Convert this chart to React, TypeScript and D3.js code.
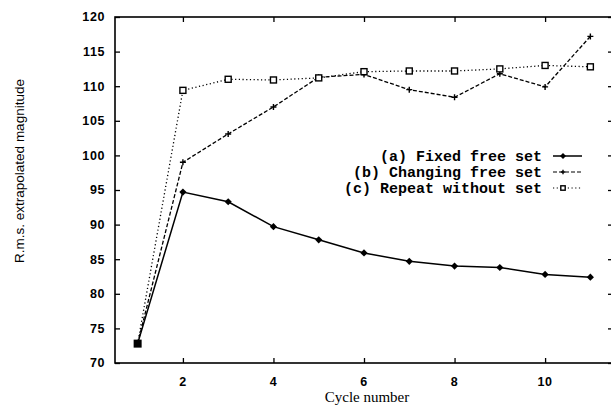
import { useEffect, useRef } from 'react';
import * as d3 from 'd3';

const cycles = [1, 2, 3, 4, 5, 6, 7, 8, 9, 10, 11];
const fixedFree = [72.8, 94.7, 93.3, 89.7, 87.8, 85.9, 84.7, 84.0, 83.8, 82.8, 82.4];
const changingFree = [72.8, 99.0, 103.1, 107.0, 111.3, 111.7, 109.5, 108.4, 111.8, 109.9, 117.2];
const repeatWithout = [72.8, 109.4, 111.0, 110.9, 111.2, 112.1, 112.2, 112.2, 112.5, 113.0, 112.8];
const seriesNames = ['(a) Fixed free set', '(b) Changing free set', '(c) Repeat without set'];
const xTicks = [2, 4, 6, 8, 10];
const yTicks = [70, 75, 80, 85, 90, 95, 100, 105, 110, 115, 120];

const [width, height] = [611, 406];
const margin = { left: 115, right: -2, top: 17, bottom: 43 };

function App() {
    const node = useRef<SVGSVGElement>(null);
    useEffect(() => {
        if (!node.current) return;
        const svg = d3.select(node.current);
        svg.selectAll('*').remove();

        const x = d3.scaleLinear().domain([0.5, 11.5]).range([margin.left, width - margin.right]);
        const y = d3.scaleLinear().domain([70, 120]).range([height - margin.bottom, margin.top]);

        /** frame */
        svg.append('rect')
            .attr('x', x(0.5)).attr('y', y(120))
            .attr('width', x(11.5) - x(0.5)).attr('height', y(70) - y(120))
            .attr('fill', 'none').attr('stroke', '#000').attr('stroke-width', 1.6);

        /** axes, ticks pointing inward */
        const left = svg.append('g').attr('transform', `translate(${x(0.5)},0)`)
            .call(d3.axisRight(y).tickValues(yTicks).tickSize(5).tickFormat(() => ''));
        const right = svg.append('g').attr('transform', `translate(${x(11.5)},0)`)
            .call(d3.axisLeft(y).tickValues(yTicks).tickSize(5).tickFormat(() => ''));
        const bottom = svg.append('g').attr('transform', `translate(0,${y(70)})`)
            .call(d3.axisTop(x).tickValues(xTicks).tickSize(5).tickFormat(() => ''));
        const top = svg.append('g').attr('transform', `translate(0,${y(120)})`)
            .call(d3.axisBottom(x).tickValues(xTicks).tickSize(5).tickFormat(() => ''));
        [left, right, bottom, top].forEach(g => {
            g.select('.domain').remove();
            g.selectAll('line').attr('stroke', '#000').attr('stroke-width', 1.3);
        });

        /** tick labels */
        svg.append('g').selectAll('text').data(yTicks).enter().append('text')
            .attr('x', 105).attr('y', d => y(d)).attr('dy', '0.35em')
            .attr('text-anchor', 'end')
            .attr('font-family', 'Liberation Sans').attr('font-size', 12.5).attr('font-weight', 'bold')
            .attr('letter-spacing', 0.6)
            .text(d => d);
        svg.append('g').selectAll('text').data(xTicks).enter().append('text')
            .attr('x', d => x(d)).attr('y', 386)
            .attr('text-anchor', 'middle')
            .attr('font-family', 'Liberation Sans').attr('font-size', 12.5).attr('font-weight', 'bold')
            .attr('letter-spacing', 0.6)
            .text(d => d);

        /** axis titles */
        svg.append('text').attr('x', 367).attr('y', 402).attr('text-anchor', 'middle')
            .attr('font-family', 'Liberation Serif').attr('font-size', 15).text('Cycle number');
        svg.append('text').attr('transform', 'translate(24,171) rotate(-90)').attr('text-anchor', 'middle')
            .attr('font-family', 'Liberation Sans').attr('font-size', 13.5).text('R.m.s. extrapolated magnitude');

        /** series */
        const dashes = [null, '4,2', '1.2,2.5'];
        const series = [fixedFree, changingFree, repeatWithout];
        const line = d3.line<number>().x((d, i) => x(cycles[i])).y(d => y(d));

        const drawMarker = (g: any, k: number, cx: number, cy: number, s: number) => {
            if (k === 0) {
                g.append('path').attr('d', `M${cx},${cy - s}L${cx + s},${cy}L${cx},${cy + s}L${cx - s},${cy}Z`)
                    .attr('fill', '#000');
            } else if (k === 1) {
                g.append('path').attr('d', `M${cx - s},${cy}H${cx + s}M${cx},${cy - s}V${cy + s}`)
                    .attr('stroke', '#000').attr('stroke-width', 1.4);
            } else {
                g.append('rect').attr('x', cx - s).attr('y', cy - s).attr('width', 2 * s).attr('height', 2 * s)
                    .attr('fill', '#fff').attr('stroke', '#000').attr('stroke-width', 1.4);
            }
        };

        series.forEach((vals, k) => {
            svg.append('path').datum(vals).attr('d', line)
                .attr('fill', 'none').attr('stroke', '#000').attr('stroke-width', k === 0 ? 1.5 : 1.3)
                .attr('stroke-dasharray', dashes[k]);
        });
        series.forEach((vals, k) => {
            const g = svg.append('g');
            vals.forEach((v, i) => { if (i > 0) drawMarker(g, k, x(cycles[i]), y(v), k === 0 ? 3.6 : 3); });
        });
        /** overlapping start point */
        svg.append('rect').attr('x', x(1) - 4).attr('y', y(fixedFree[0]) - 4).attr('width', 8).attr('height', 8).attr('fill', '#000');

        /** legend */
        const ly = [156, 172, 188];
        seriesNames.forEach((name, k) => {
            svg.append('text').attr('x', 542).attr('y', ly[k]).attr('dy', '0.35em').attr('text-anchor', 'end')
                .attr('font-family', 'Liberation Mono').attr('font-size', 15).attr('font-weight', 'bold')
                .text(name);
            svg.append('line').attr('x1', 553).attr('x2', 582).attr('y1', ly[k]).attr('y2', ly[k])
                .attr('stroke', '#000').attr('stroke-width', k === 0 ? 1.5 : 1.2)
                .attr('stroke-dasharray', dashes[k]);
            drawMarker(svg, k, 563, ly[k], k === 0 ? 3 : 2.2);
        });
    }, [node]);

    return (
        <svg ref={node} width={width} height={height}
            style={{ position: 'absolute', left: 0, top: 0, background: '#fff' }}></svg>
    );
}

export default App;
